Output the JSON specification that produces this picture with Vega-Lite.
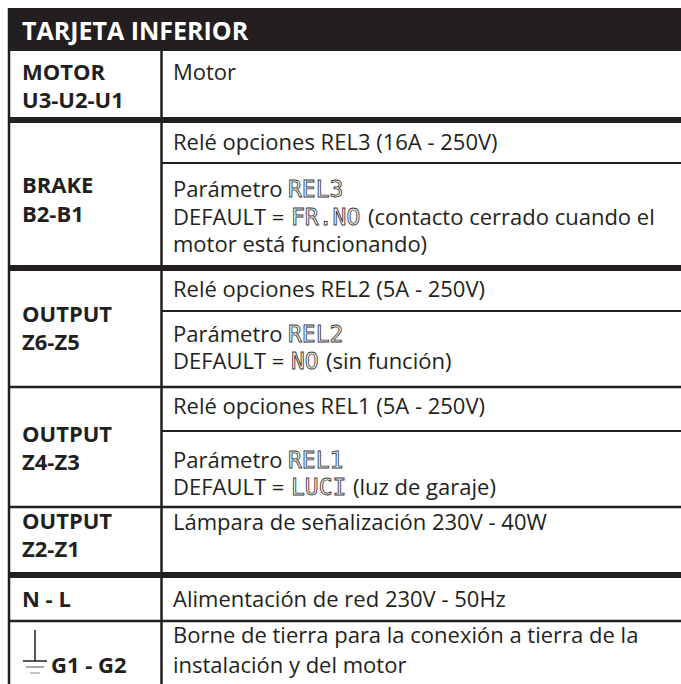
{
  "$schema": "https://vega.github.io/schema/vega-lite/v6.json",
  "width": 681,
  "height": 684,
  "padding": 0,
  "autosize": {"type": "none"},
  "background": "white",
  "config": {
    "view": {"stroke": null},
    "axis": {"disable": true},
    "text": {"font": "Open Sans", "fontSize": 22, "fill": "#231f20", "align": "left", "baseline": "alphabetic"}
  },
  "datasets": {
    "header": [{"title": "TARJETA INFERIOR"}],
    "hlines": [
      {"y": 120, "kind": "thick"},
      {"y": 163, "kind": "sub"},
      {"y": 268, "kind": "thick"},
      {"y": 311, "kind": "sub"},
      {"y": 387, "kind": "full"},
      {"y": 431, "kind": "sub"},
      {"y": 507, "kind": "full"},
      {"y": 575, "kind": "thick"},
      {"y": 621, "kind": "full"}
    ],
    "labels": [
      {"y": 80, "text": "MOTOR"},
      {"y": 108, "text": "U3-U2-U1"},
      {"y": 193, "text": "BRAKE"},
      {"y": 222, "text": "B2-B1"},
      {"y": 322, "text": "OUTPUT"},
      {"y": 350, "text": "Z6-Z5"},
      {"y": 442, "text": "OUTPUT"},
      {"y": 470, "text": "Z4-Z3"},
      {"y": 529, "text": "OUTPUT"},
      {"y": 557, "text": "Z2-Z1"},
      {"y": 607, "text": "N - L"}
    ],
    "ground": [{"y": 673, "text": "G1 - G2"}],
    "desc": [
      {"y": 80, "text": "Motor"},
      {"y": 150, "text": "Relé opciones REL3 (16A - 250V)"},
      {"y": 197, "text": "Parámetro"},
      {"y": 225, "text": "DEFAULT ="},
      {"y": 252, "text": "motor está funcionando)"},
      {"y": 297, "text": "Relé opciones REL2 (5A - 250V)"},
      {"y": 342, "text": "Parámetro"},
      {"y": 369, "text": "DEFAULT ="},
      {"y": 414, "text": "Relé opciones REL1 (5A - 250V)"},
      {"y": 468, "text": "Parámetro"},
      {"y": 495, "text": "DEFAULT ="},
      {"y": 530, "text": "Lámpara de señalización 230V - 40W"},
      {"y": 607, "text": "Alimentación de red 230V - 50Hz"},
      {"y": 643, "text": "Borne de tierra para la conexión a tierra de la"},
      {"y": 673, "text": "instalación y del motor"}
    ],
    "codes": [
      {"y": 197, "code": "REL3", "after": "param"},
      {"y": 225, "code": "FR.NO", "after": "default"},
      {"y": 342, "code": "REL2", "after": "param"},
      {"y": 369, "code": "NO", "after": "default"},
      {"y": 468, "code": "REL1", "after": "param"},
      {"y": 495, "code": "LUCI", "after": "default"}
    ],
    "rest": [
      {"y": 225, "code": "FR.NO", "text": "(contacto cerrado cuando el"},
      {"y": 369, "code": "NO", "text": "(sin función)"},
      {"y": 495, "code": "LUCI", "text": "(luz de garaje)"}
    ]
  },
  "layer": [
    {
      "data": {"name": "header"},
      "mark": {"type": "rect", "fill": "#231f20"},
      "encoding": {
        "x": {"datum": 8, "type": "quantitative", "scale": {"domain": [0, 681], "nice": false, "zero": false}},
        "x2": {"datum": 681},
        "y": {"datum": 8, "type": "quantitative", "scale": {"domain": [0, 684], "nice": false, "zero": false, "reverse": true}},
        "y2": {"datum": 51}
      }
    },
    {
      "data": {"name": "header"},
      "mark": {"type": "text", "fill": "white", "fontWeight": "bold", "fontSize": 25},
      "encoding": {
        "x": {"datum": 22, "type": "quantitative", "scale": {"domain": [0, 681], "nice": false, "zero": false}},
        "y": {"datum": 40, "type": "quantitative", "scale": {"domain": [0, 684], "nice": false, "zero": false, "reverse": true}},
        "text": {"field": "title"}
      }
    },
    {
      "data": {"name": "hlines"},
      "transform": [{"filter": "datum.kind === 'thick'"}],
      "mark": {"type": "rule", "stroke": "#231f20", "strokeWidth": 6},
      "encoding": {
        "x": {"datum": 8, "type": "quantitative", "scale": {"domain": [0, 681], "nice": false, "zero": false}},
        "x2": {"datum": 681},
        "y": {"field": "y", "type": "quantitative", "scale": {"domain": [0, 684], "nice": false, "zero": false, "reverse": true}}
      }
    },
    {
      "data": {"name": "hlines"},
      "transform": [{"filter": "datum.kind === 'full'"}],
      "mark": {"type": "rule", "stroke": "#231f20", "strokeWidth": 2.5},
      "encoding": {
        "x": {"datum": 8, "type": "quantitative", "scale": {"domain": [0, 681], "nice": false, "zero": false}},
        "x2": {"datum": 681},
        "y": {"field": "y", "type": "quantitative", "scale": {"domain": [0, 684], "nice": false, "zero": false, "reverse": true}}
      }
    },
    {
      "data": {"name": "hlines"},
      "transform": [{"filter": "datum.kind === 'sub'"}],
      "mark": {"type": "rule", "stroke": "#231f20", "strokeWidth": 2},
      "encoding": {
        "x": {"datum": 161, "type": "quantitative", "scale": {"domain": [0, 681], "nice": false, "zero": false}},
        "x2": {"datum": 681},
        "y": {"field": "y", "type": "quantitative", "scale": {"domain": [0, 684], "nice": false, "zero": false, "reverse": true}}
      }
    },
    {
      "data": {"name": "header"},
      "mark": {"type": "rule", "stroke": "#231f20", "strokeWidth": 2.5},
      "encoding": {
        "x": {"datum": 9, "type": "quantitative", "scale": {"domain": [0, 681], "nice": false, "zero": false}},
        "y": {"datum": 8, "type": "quantitative", "scale": {"domain": [0, 684], "nice": false, "zero": false, "reverse": true}},
        "y2": {"datum": 684}
      }
    },
    {
      "data": {"name": "header"},
      "mark": {"type": "rule", "stroke": "#231f20", "strokeWidth": 2.5},
      "encoding": {
        "x": {"datum": 161.5, "type": "quantitative", "scale": {"domain": [0, 681], "nice": false, "zero": false}},
        "y": {"datum": 51, "type": "quantitative", "scale": {"domain": [0, 684], "nice": false, "zero": false, "reverse": true}},
        "y2": {"datum": 684}
      }
    },
    {
      "data": {"name": "labels"},
      "mark": {"type": "text", "fontWeight": "bold", "fontSize": 22},
      "encoding": {
        "x": {"datum": 22, "type": "quantitative", "scale": {"domain": [0, 681], "nice": false, "zero": false}},
        "y": {"field": "y", "type": "quantitative", "scale": {"domain": [0, 684], "nice": false, "zero": false, "reverse": true}},
        "text": {"field": "text"}
      }
    },
    {
      "data": {"name": "ground"},
      "mark": {"type": "text", "fontWeight": "bold", "fontSize": 22},
      "encoding": {
        "x": {"datum": 51, "type": "quantitative", "scale": {"domain": [0, 681], "nice": false, "zero": false}},
        "y": {"field": "y", "type": "quantitative", "scale": {"domain": [0, 684], "nice": false, "zero": false, "reverse": true}},
        "text": {"field": "text"}
      }
    },
    {
      "data": {"name": "ground"},
      "mark": {"type": "rule", "stroke": "#231f20", "strokeWidth": 1.5},
      "encoding": {
        "x": {"datum": 35, "type": "quantitative", "scale": {"domain": [0, 681], "nice": false, "zero": false}},
        "y": {"datum": 630, "type": "quantitative", "scale": {"domain": [0, 684], "nice": false, "zero": false, "reverse": true}},
        "y2": {"datum": 661}
      }
    },
    {
      "data": {"name": "ground"},
      "mark": {"type": "rule", "stroke": "#231f20", "strokeWidth": 1.5},
      "encoding": {
        "x": {"datum": 23, "type": "quantitative", "scale": {"domain": [0, 681], "nice": false, "zero": false}},
        "x2": {"datum": 47},
        "y": {"datum": 661, "type": "quantitative", "scale": {"domain": [0, 684], "nice": false, "zero": false, "reverse": true}}
      }
    },
    {
      "data": {"name": "ground"},
      "mark": {"type": "rule", "stroke": "#8a8a8a", "strokeWidth": 1.5},
      "encoding": {
        "x": {"datum": 26, "type": "quantitative", "scale": {"domain": [0, 681], "nice": false, "zero": false}},
        "x2": {"datum": 44},
        "y": {"datum": 667, "type": "quantitative", "scale": {"domain": [0, 684], "nice": false, "zero": false, "reverse": true}}
      }
    },
    {
      "data": {"name": "ground"},
      "mark": {"type": "rule", "stroke": "#b0b0b0", "strokeWidth": 1.5},
      "encoding": {
        "x": {"datum": 30, "type": "quantitative", "scale": {"domain": [0, 681], "nice": false, "zero": false}},
        "x2": {"datum": 40},
        "y": {"datum": 673, "type": "quantitative", "scale": {"domain": [0, 684], "nice": false, "zero": false, "reverse": true}}
      }
    },
    {
      "data": {"name": "desc"},
      "mark": {"type": "text"},
      "encoding": {
        "x": {"datum": 173, "type": "quantitative", "scale": {"domain": [0, 681], "nice": false, "zero": false}},
        "y": {"field": "y", "type": "quantitative", "scale": {"domain": [0, 684], "nice": false, "zero": false, "reverse": true}},
        "text": {"field": "text"}
      }
    },
    {
      "data": {"name": "codes"},
      "transform": [{"filter": "datum.after === 'param'"}],
      "mark": {"type": "text", "font": "DejaVu Sans Mono", "fontSize": 23, "fill": "white", "stroke": "#3a3a3a", "strokeWidth": 0.9, "dx": 115},
      "encoding": {
        "x": {"datum": 173, "type": "quantitative", "scale": {"domain": [0, 681], "nice": false, "zero": false}},
        "y": {"field": "y", "type": "quantitative", "scale": {"domain": [0, 684], "nice": false, "zero": false, "reverse": true}},
        "text": {"field": "code"}
      }
    },
    {
      "data": {"name": "codes"},
      "transform": [{"filter": "datum.after === 'default'"}],
      "mark": {"type": "text", "font": "DejaVu Sans Mono", "fontSize": 23, "fill": "white", "stroke": "#3a3a3a", "strokeWidth": 0.9, "dx": 118},
      "encoding": {
        "x": {"datum": 173, "type": "quantitative", "scale": {"domain": [0, 681], "nice": false, "zero": false}},
        "y": {"field": "y", "type": "quantitative", "scale": {"domain": [0, 684], "nice": false, "zero": false, "reverse": true}},
        "text": {"field": "code"}
      }
    },
    {
      "data": {"name": "rest"},
      "transform": [{"filter": "datum.code === 'FR.NO'"}],
      "mark": {"type": "text", "dx": 195},
      "encoding": {
        "x": {"datum": 173, "type": "quantitative", "scale": {"domain": [0, 681], "nice": false, "zero": false}},
        "y": {"field": "y", "type": "quantitative", "scale": {"domain": [0, 684], "nice": false, "zero": false, "reverse": true}},
        "text": {"field": "text"}
      }
    },
    {
      "data": {"name": "rest"},
      "transform": [{"filter": "datum.code === 'NO'"}],
      "mark": {"type": "text", "dx": 153},
      "encoding": {
        "x": {"datum": 173, "type": "quantitative", "scale": {"domain": [0, 681], "nice": false, "zero": false}},
        "y": {"field": "y", "type": "quantitative", "scale": {"domain": [0, 684], "nice": false, "zero": false, "reverse": true}},
        "text": {"field": "text"}
      }
    },
    {
      "data": {"name": "rest"},
      "transform": [{"filter": "datum.code === 'LUCI'"}],
      "mark": {"type": "text", "dx": 180},
      "encoding": {
        "x": {"datum": 173, "type": "quantitative", "scale": {"domain": [0, 681], "nice": false, "zero": false}},
        "y": {"field": "y", "type": "quantitative", "scale": {"domain": [0, 684], "nice": false, "zero": false, "reverse": true}},
        "text": {"field": "text"}
      }
    }
  ]
}
